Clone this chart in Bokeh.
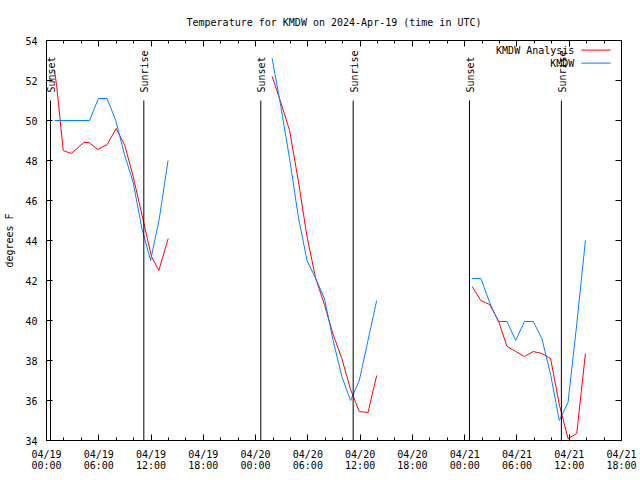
from math import pi
from bokeh.plotting import figure
from bokeh.models import Range1d, FixedTicker, LinearAxis, Arrow, Label
from bokeh.core.properties import value
from bokeh.embed import file_html
from bokeh.resources import INLINE

# ---------------- data ----------------
title_text = "Temperature for KMDW on 2024-Apr-19 (time in UTC)"
y_label = "degrees F"
series_names = ["KMDW Analysis", "KMDW"]

# hours since 2024-04-19 00:00 UTC
tick_hours = [0, 6, 12, 18, 24, 30, 36, 42, 48, 54, 60, 66]
tick_labels = ["04/19\n00:00", "04/19\n06:00", "04/19\n12:00", "04/19\n18:00",
               "04/20\n00:00", "04/20\n06:00", "04/20\n12:00", "04/20\n18:00",
               "04/21\n00:00", "04/21\n06:00", "04/21\n12:00", "04/21\n18:00"]
minor_tick_hours = list(range(0, 67, 2))
y_ticks = [34, 36, 38, 40, 42, 44, 46, 48, 50, 52, 54]

# KMDW Analysis (red)
analysis_hours_d1 = [0.92, 1.15, 1.92, 2.84, 4.28, 4.86, 5.89, 6.97, 8.00, 8.41, 8.99, 9.95, 12.05, 12.89, 13.97]
analysis_temp_d1 = [52.5, 51.8, 48.5, 48.35, 48.9, 48.9, 48.55, 48.8, 49.6, 49.25, 48.75, 47.2, 43.2, 42.5, 44.1]
analysis_hours_d2 = [25.9, 26.9, 27.9, 28.9, 29.9, 30.9, 31.9, 32.9, 33.9, 34.9, 35.9, 36.9, 37.9]
analysis_temp_d2 = [52.2, 50.9, 49.5, 47.0, 44.2, 42.1, 40.8, 39.3, 38.1, 36.55, 35.45, 35.4, 37.25]
analysis_hours_d3 = [48.86, 49.86, 50.86, 51.86, 52.86, 53.86, 54.86, 55.86, 56.86, 57.86, 58.86, 59.86, 60.86, 61.86]
analysis_temp_d3 = [41.7, 41.0, 40.8, 40.0, 38.7, 38.45, 38.2, 38.45, 38.35, 38.1, 35.8, 34.1, 34.35, 38.35]

# KMDW observations (blue)
obs_hours_d1 = [0.95, 1.95, 2.95, 3.95, 4.95, 5.95, 6.95, 7.95, 8.95, 9.95, 10.95, 11.95, 12.95, 13.95]
obs_temp_d1 = [50.0, 50.0, 50.0, 50.0, 50.0, 51.1, 51.1, 50.0, 48.3, 46.9, 44.6, 43.0, 45.1, 48.0]
obs_hours_d2 = [25.9, 26.9, 27.9, 28.9, 29.9, 30.9, 31.9, 32.9, 33.9, 34.9, 35.9, 36.9, 37.9]
obs_temp_d2 = [53.1, 50.7, 48.1, 45.2, 43.0, 42.1, 41.1, 39.0, 37.2, 36.0, 37.0, 39.0, 41.0]
obs_hours_d3 = [48.86, 49.86, 50.86, 51.86, 52.86, 53.86, 54.86, 55.86, 56.86, 57.86, 58.86, 59.86, 60.86, 61.86]
obs_temp_d3 = [42.1, 42.1, 40.9, 39.95, 39.95, 39.0, 39.95, 39.95, 39.1, 37.3, 35.0, 35.9, 39.8, 44.0]

sun_hours = [0.46, 11.17, 24.6, 35.2, 48.55, 59.1]
sun_labels = ["Sunset", "Sunrise", "Sunset", "Sunrise", "Sunset", "Sunrise"]

# ---------------- style ----------------
FONT = "DejaVu Sans Mono"
FS = "10px"
RED = "#ff0000"
BLUE = "#0080ff"
X0, X1 = 0, 66
Y0, Y1 = 34, 54

p = figure(width=640, height=480, output_backend="svg", toolbar_location=None,
           x_range=Range1d(X0, X1), y_range=Range1d(Y0, Y1),
           min_border_left=46, min_border_right=19, min_border_top=40, min_border_bottom=40,
           x_axis_location=None, y_axis_location=None)
p.background_fill_color = "white"
p.border_fill_color = "white"
p.outline_line_color = "black"
p.outline_line_width = 1
p.xgrid.visible = False
p.ygrid.visible = False

p.title.text = title_text
p.title.text_font = FONT
p.title.text_font_size = FS
p.title.text_font_style = "normal"
p.title.text_color = "black"
p.title.align = "center"
p.title.standoff = 25


def style_axis(ax, show_labels):
    ax.axis_line_color = "black"
    ax.major_tick_line_color = "black"
    ax.minor_tick_line_color = "black"
    ax.major_tick_in = 6
    ax.major_tick_out = 0
    ax.minor_tick_in = 3
    ax.minor_tick_out = 0
    ax.major_label_text_font = FONT
    ax.major_label_text_font_size = FS if show_labels else "0px"
    ax.major_label_text_color = "black"
    if not show_labels:
        ax.major_label_standoff = 0


xticker = FixedTicker(ticks=tick_hours, minor_ticks=minor_tick_hours)
yticker = FixedTicker(ticks=y_ticks, minor_ticks=[])

xb = LinearAxis(ticker=xticker)
style_axis(xb, True)
xb.major_label_overrides = {h: lab for h, lab in zip(tick_hours, tick_labels)}
xb.major_label_standoff = 8
xb.major_label_text_line_height = 1.0
p.add_layout(xb, "below")

xt = LinearAxis(ticker=xticker)
style_axis(xt, False)
xt.major_label_overrides = {h: "" for h in tick_hours}
p.add_layout(xt, "above")

yl = LinearAxis(ticker=yticker, axis_label=y_label)
style_axis(yl, True)
yl.major_label_standoff = 9
yl.axis_label_text_font = FONT
yl.axis_label_text_font_size = FS
yl.axis_label_text_font_style = "normal"
yl.axis_label_text_color = "black"
yl.axis_label_standoff = 7
p.add_layout(yl, "left")

yr = LinearAxis(ticker=yticker)
style_axis(yr, False)
yr.major_label_overrides = {t: "" for t in y_ticks}
p.add_layout(yr, "right")

# data lines
for hx, ty in [(analysis_hours_d1, analysis_temp_d1), (analysis_hours_d2, analysis_temp_d2),
               (analysis_hours_d3, analysis_temp_d3)]:
    p.line(hx, ty, line_color=RED, line_width=1)
for hx, ty in [(obs_hours_d1, obs_temp_d1), (obs_hours_d2, obs_temp_d2),
               (obs_hours_d3, obs_temp_d3)]:
    p.line(hx, ty, line_color=BLUE, line_width=1)

# sunrise / sunset markers
line_top = Y0 + 0.85 * (Y1 - Y0)
label_y = Y0 + 0.87 * (Y1 - Y0)
p.segment(x0=sun_hours, y0=[Y0] * len(sun_hours), x1=sun_hours, y1=[line_top] * len(sun_hours),
          line_color="black", line_width=1)
p.text(x=sun_hours, y=[label_y] * len(sun_hours), text=sun_labels, angle=pi / 2,
       text_align="left", text_baseline="middle", x_offset=1,
       text_font=value(FONT), text_font_size=FS, text_color="black")

# legend (gnuplot style: text then sample line)
def fx(f):
    return X0 + f * (X1 - X0)


def fy(f):
    return Y1 - f * (Y1 - Y0)


for i, (name, col) in enumerate(zip(series_names, [RED, BLUE])):
    yy = fy(0.024 + i * 0.0325)
    p.add_layout(Label(x=fx(0.918), y=yy, text=name, text_align="right", text_baseline="middle",
                       text_font=FONT, text_font_size=FS, text_color="black"))
    p.add_layout(Arrow(end=None, x_start=fx(0.930), y_start=yy, x_end=fx(0.981), y_end=yy,
                       line_color=col, line_width=1))

open("out.html", "w").write(file_html(p, INLINE))
